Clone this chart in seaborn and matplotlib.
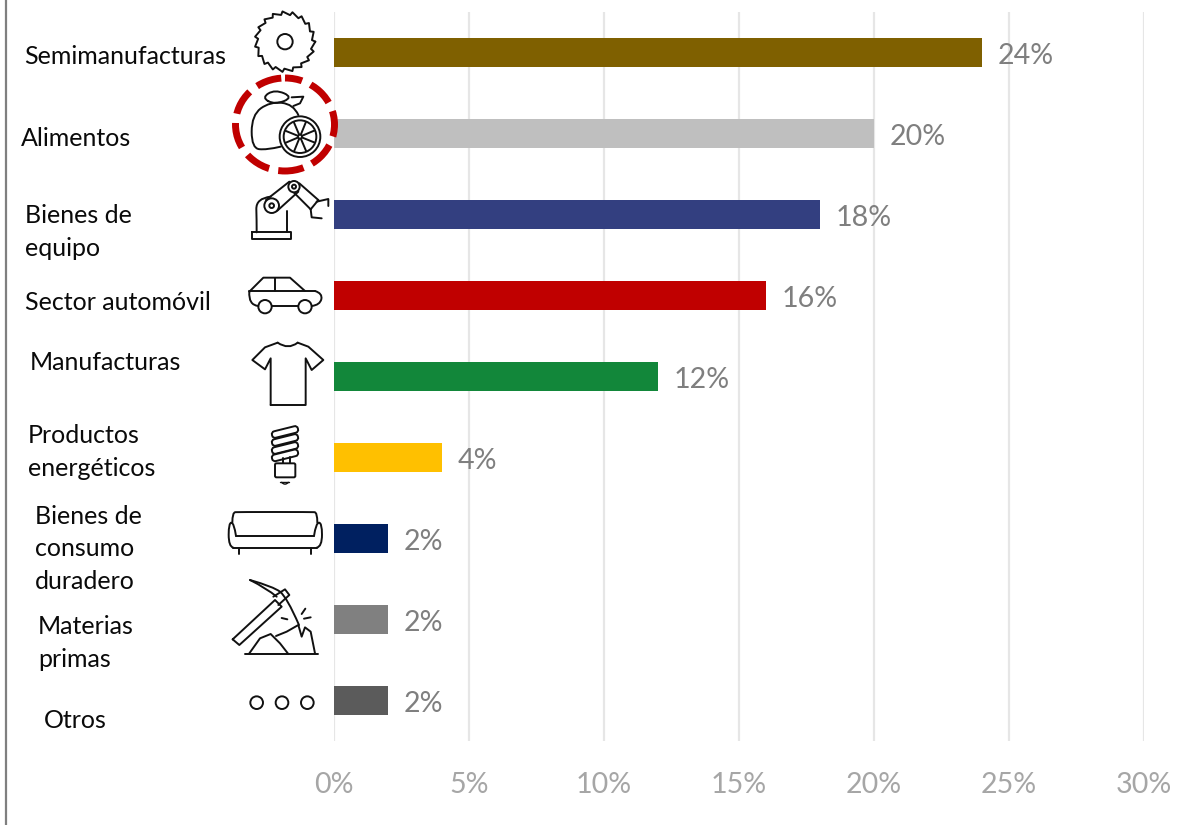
import numpy as np
import pandas as pd
import matplotlib
matplotlib.use("Agg")
import matplotlib.pyplot as plt
from matplotlib.path import Path
from matplotlib.patches import PathPatch, Circle, Ellipse, FancyBboxPatch
from matplotlib.transforms import Affine2D
import seaborn as sns

categories = ["Semimanufacturas", "Alimentos", "Bienes de equipo", "Sector automóvil", "Manufacturas",
              "Productos energéticos", "Bienes de consumo duradero", "Materias primas", "Otros"]
shares = [24, 20, 18, 16, 12, 4, 2, 2, 2]
colors = ["#7F6000", "#BFBFBF", "#333F80", "#C00000", "#12873A", "#FFC000", "#002060", "#808080", "#5B5B5B"]
x_ticks = [0, 5, 10, 15, 20, 25, 30]

# text shown left of the icons, with its line breaks
label_lines = ["Semimanufacturas", "Alimentos", "Bienes de\nequipo", "Sector automóvil", "Manufacturas",
               "Productos\nenergéticos", "Bienes de\nconsumo\nduradero", "Materias\nprimas", "Otros"]
label_x = [24, 21, 25, 25, 30, 28, 35, 38, 44]
label_y = [56, 139, 232, 302, 363, 452, 549, 643, 721]

W, H = 1178, 825
sns.set_theme(style="white")
plt.rcParams["font.family"] = ["Lato", "DejaVu Sans"]

df = pd.DataFrame({"category": categories, "share": shares})

fig = plt.figure(figsize=(W / 100, H / 100), dpi=100)
ax = fig.add_axes([334 / W, 1 - 741 / H, (1143.5 - 334) / W, (741 - 12) / H])
ax.set_axisbelow(True)
sns.barplot(data=df, y="category", x="share", hue="category", palette=colors, dodge=False,
            width=0.365, legend=False, saturation=1, ax=ax, zorder=3, linewidth=0)
ax.set_xlim(0, 30)
ax.set_xticks(x_ticks)
ax.set_xticklabels([f"{t}%" for t in x_ticks], color="#A6A6A6", fontsize=20.6)
ax.set_xlabel("")
ax.set_ylabel("")
ax.set_yticks([])
ax.tick_params(axis="x", length=0, pad=22)
ax.grid(axis="x", color="#E6E6E6", lw=1.6, zorder=0)
ax.grid(axis="y", visible=False)
sns.despine(ax=ax, left=True, bottom=True, top=True, right=True)
for cont in ax.containers:
    for t in ax.bar_label(cont, fmt="%.0f%%", padding=11.5, color="#7F7F7F", fontsize=20.6):
        t.xyann = (t.xyann[0], -2.2)

# overlay in image pixels for the hand drawn icons and labels
ov = fig.add_axes([0, 0, 1, 1], facecolor="none")
ov.set_xlim(0, W)
ov.set_ylim(H, 0)
ov.axis("off")

ov.plot([5.5, 5.5], [0, H], color="#7F7F7F", lw=1.6)

for txt, lx, ly in zip(label_lines, label_x, label_y):
    ov.text(lx, ly, txt, ha="left", va="center", fontsize=18, color="#0A0A0A", linespacing=1.48)

LW = 1.4
INK = "#111111"


def z(pts, off=0):
    return [(x / 3, (y + off) / 3) for x, y in pts]


def line(pts, off=0, closed=False, lw=LW):
    p = z(pts, off)
    if closed:
        p = p + [p[0]]
    ov.plot([a for a, b in p], [b for a, b in p], color=INK, lw=lw, solid_joinstyle="round", solid_capstyle="round")


def curve(pts, off=0, closed=False, lw=LW):
    # smooth quadratic curve through midpoints
    p = np.array(z(pts, off))
    if closed:
        mids = (p + np.roll(p, -1, axis=0)) / 2
        verts = [mids[-1]]
        codes = [Path.MOVETO]
        for i in range(len(p)):
            verts += [p[i], mids[i]]
            codes += [Path.CURVE3, Path.CURVE3]
    else:
        verts = [p[0]]
        codes = [Path.MOVETO]
        for i in range(1, len(p) - 1):
            end = (p[i] + p[i + 1]) / 2 if i < len(p) - 2 else p[i + 1]
            verts += [p[i], end]
            codes += [Path.CURVE3, Path.CURVE3]
    ov.add_patch(PathPatch(Path(verts, codes), fill=False, ec=INK, lw=lw, capstyle="round", joinstyle="round"))


def circ(x, y, r, off=0, lw=LW):
    ov.add_patch(Circle((x / 3, (y + off) / 3), r / 3, fill=False, ec=INK, lw=lw))


# saw blade
teeth = 19
saw = []
for i in range(teeth):
    a = 2 * np.pi * i / teeth
    b = 2 * np.pi * (i + 0.82) / teeth
    saw.append((855 + 91 * np.cos(a), 125 + 91 * np.sin(a)))
    saw.append((855 + 81 * np.cos(b), 125 + 81 * np.sin(b)))
line(saw, closed=True)
circ(855, 125, 23)

# lemon with dashed ring
ov.add_patch(Ellipse((285, 124.5), 99, 93, fill=False, ec="#C00000", lw=5.0, capstyle="butt",
                     linestyle=(1.2, (3.7, 1.35))))
curve([(895, 345), (880, 312), (810, 305), (755, 345), (755, 445), (800, 450), (842, 440)])
curve([(785, 293), (825, 268), (880, 292), (825, 314)], closed=True)
line([(875, 292), (910, 290), (900, 310), (880, 318)])
circ(900, 410, 61)
circ(900, 410, 49)
circ(900, 410, 6)
for a in np.arange(0, 360, 45) + 22:
    r = np.radians(a)
    line([(900 + 8 * np.cos(r), 410 + 8 * np.sin(r)), (900 + 47 * np.cos(r), 410 + 47 * np.sin(r))])

# robot arm
line([(757, 697), (872, 697), (872, 718), (757, 718)], closed=True)
curve([(770, 697), (770, 660), (768, 595), (812, 590)])
line([(860, 697), (860, 632)])
line([(798, 600), (868, 545)])
line([(832, 632), (895, 575)])
circ(815, 617, 7)
circ(815, 617, 22)
circ(882, 560, 6)
circ(882, 560, 17)
line([(898, 550), (955, 600)])
line([(882, 578), (932, 628)])
line([(932, 628), (955, 600)])
line([(950, 605), (985, 597), (985, 618)])
line([(932, 628), (935, 652), (965, 655)])

# car
curve([(748, 875), (745, 915), (775, 918)])
line([(748, 875), (790, 833), (870, 833), (915, 873)])
line([(825, 833), (825, 873)])
line([(748, 873), (945, 873)])
curve([(945, 873), (968, 880), (960, 915), (935, 918)])
line([(815, 918), (895, 918)])
circ(795, 920, 20)
circ(915, 920, 20)

# t-shirt
line([(812, 225), (917, 225), (917, 85), (935, 120), (970, 90), (925, 50), (893, 38)], off=990)
curve([(893, 38), (865, 60), (833, 38)], off=990)
line([(833, 38), (795, 52), (757, 90), (795, 118), (812, 85), (812, 225)], off=990)

# light bulb
for y0 in [296, 320, 344, 366]:
    rot = Affine2D().rotate_deg_around(285, (y0 + 990 + 10) / 3, -14)
    ov.add_patch(FancyBboxPatch((815 / 3, (y0 + 990) / 3), 80 / 3, 20 / 3, boxstyle="round,pad=0,rounding_size=3",
                                fc="white", ec=INK, lw=LW, transform=rot + ov.transData))
line([(848, 385), (848, 400)], off=990)
line([(870, 380), (870, 400)], off=990)
ov.add_patch(FancyBboxPatch((825 / 3, (400 + 990) / 3), 61 / 3, 42 / 3, boxstyle="round,pad=0,rounding_size=1.5", fc="none", ec=INK, lw=LW))
line([(840, 455), (868, 455)], off=990, lw=1.0)
curve([(845, 457), (855, 468), (865, 457)], off=990, lw=1.0)

# sofa
curve([(697, 578), (697, 547), (715, 546), (935, 546), (952, 547), (952, 578)], off=990)
curve([(708, 618), (702, 578), (686, 578), (686, 650), (700, 653)], off=990)
curve([(942, 618), (948, 578), (966, 578), (966, 650), (950, 653)], off=990)
line([(708, 618), (942, 618)], off=990)
line([(700, 653), (950, 653)], off=990)
line([(718, 653), (718, 672)], off=990)
line([(932, 653), (932, 672)], off=990)

# pickaxe and rock
line([(698, 928), (825, 810), (845, 830), (718, 945)], off=990, closed=True)
line([(820, 800), (855, 778), (868, 795), (835, 825)], off=990)
curve([(750, 750), (820, 770), (860, 800), (897, 885)], off=990)
curve([(750, 750), (800, 775), (830, 800)], off=990)
line([(735, 972), (955, 972)], off=990)
line([(748, 970), (780, 925), (812, 912), (840, 940), (865, 972)], off=990)
line([(828, 918), (860, 905), (895, 885), (905, 920), (915, 892), (932, 905), (945, 970)], off=990)
line([(905, 852), (916, 836)], off=990)
line([(912, 866), (932, 862)], off=990)
line([(845, 864), (862, 868)], off=990)

# others
for cx in [770, 846, 922]:
    circ(cx, 1118, 19, off=990)

fig.savefig("out.png", dpi=100)
